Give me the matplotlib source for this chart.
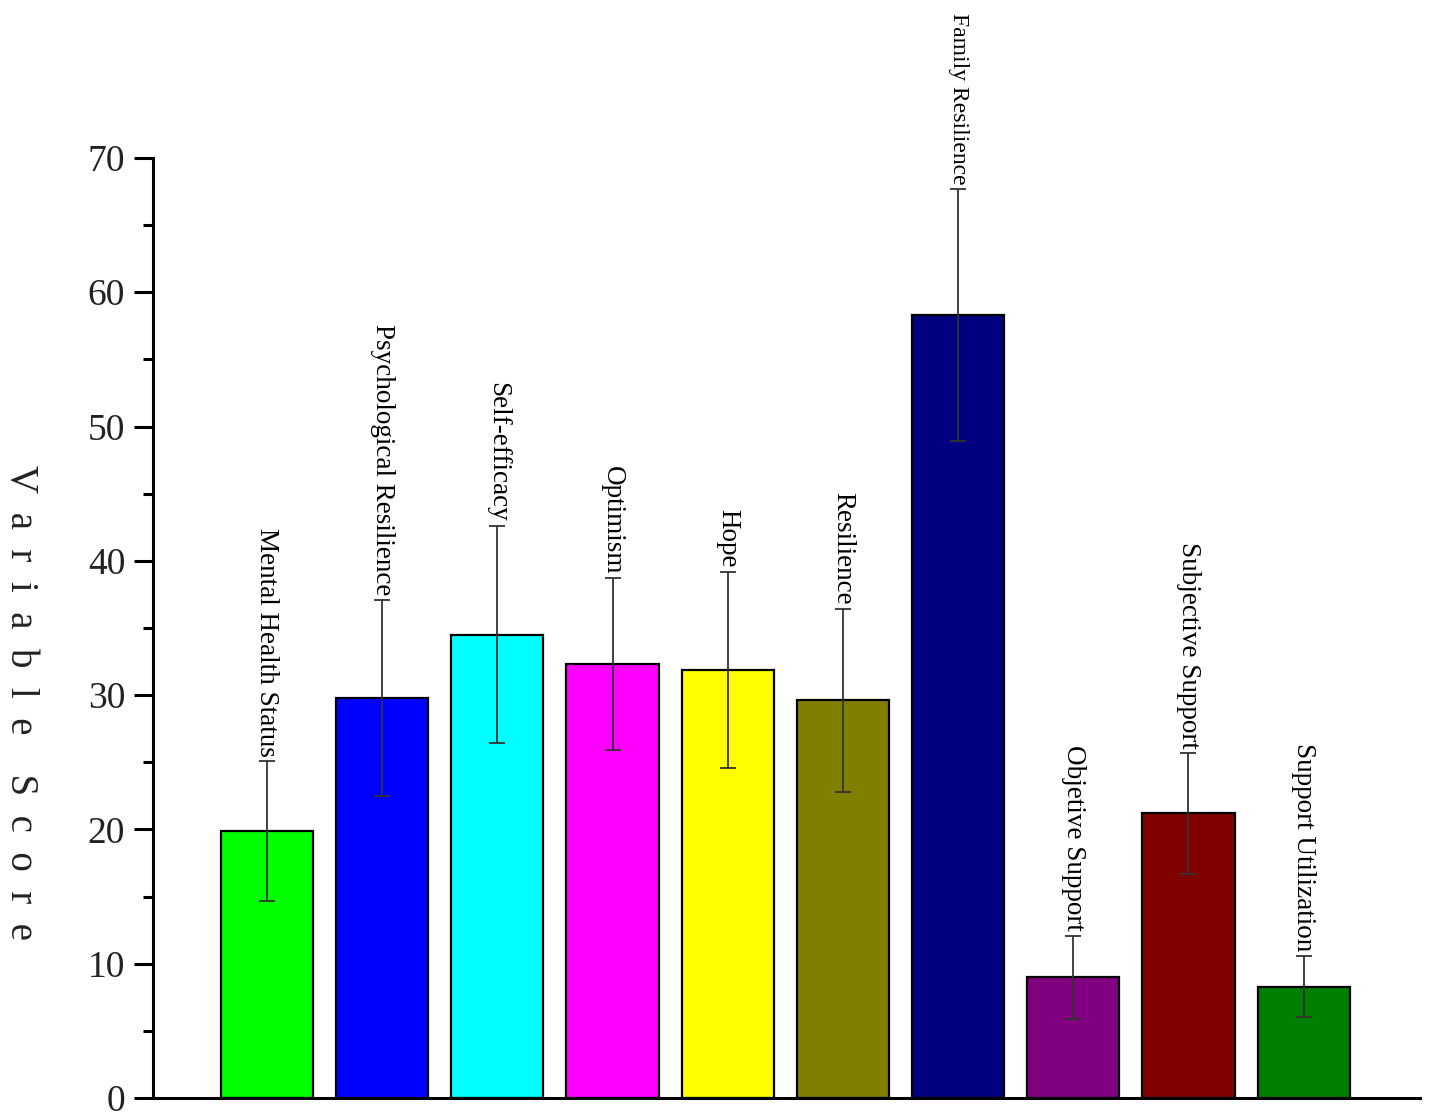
import matplotlib.pyplot as plt
import numpy as np
from matplotlib.ticker import MultipleLocator

categories = ["Mental Health Status", "Psychological Resilience", "Self-efficacy",
              "Optimism", "Hope", "Resilience", "Family Resilience",
              "Objetive Support", "Subjective Support", "Support Utilization"]
means = [19.9, 29.8, 34.5, 32.3, 31.9, 29.6, 58.3, 9.0, 21.2, 8.3]
errors = [5.2, 7.3, 8.1, 6.4, 7.3, 6.8, 9.4, 3.1, 4.5, 2.3]
colors = ["#00ff00", "#0000ff", "#00ffff", "#ff00ff", "#ffff00",
          "#808000", "#000080", "#800080", "#800000", "#008000"]

plt.rcParams['font.family'] = ['Liberation Serif', 'DejaVu Serif']

fig = plt.figure(figsize=(14.29, 11.17), dpi=100)
ax = fig.add_axes([0.107, 0.017, 0.8867, 0.8416])

x = np.arange(1, len(means) + 1)
ax.bar(x, means, width=0.8, color=colors, edgecolor='black', linewidth=1.6, zorder=2)
ax.errorbar(x, means, yerr=errors, fmt='none', ecolor='#333333', elinewidth=1.3,
            capsize=6, capthick=1.3, zorder=3)

for xi, m, e, lab in zip(x, means, errors, categories):
    fs = 17 if lab == "Family Resilience" else 19.5
    ax.annotate(lab, (xi, m + e), xytext=(0, 3), textcoords='offset points',
                rotation=-90, ha='center', va='bottom', fontsize=fs,
                annotation_clip=False)

ax.set_xlim(0.01, 11.01)
ax.set_ylim(0, 70)
ax.yaxis.set_major_locator(MultipleLocator(10))
ax.yaxis.set_minor_locator(MultipleLocator(5))
ax.set_xticks([])
ax.spines['top'].set_visible(False)
ax.spines['right'].set_visible(False)
ax.spines['left'].set_linewidth(2.2)
ax.spines['bottom'].set_linewidth(2.2)
ax.tick_params(axis='y', which='major', length=14, width=2.2, labelsize=27,
               pad=6, labelcolor='#222222')
ax.tick_params(axis='y', which='minor', length=7, width=2.2)

fig.text(0.014, 0.371, "V  a  r  i  a  b  l  e    S  c  o  r  e", rotation=-90,
         ha='center', va='center', fontsize=28, color='#222222')

fig.savefig("out.png", dpi=100)
